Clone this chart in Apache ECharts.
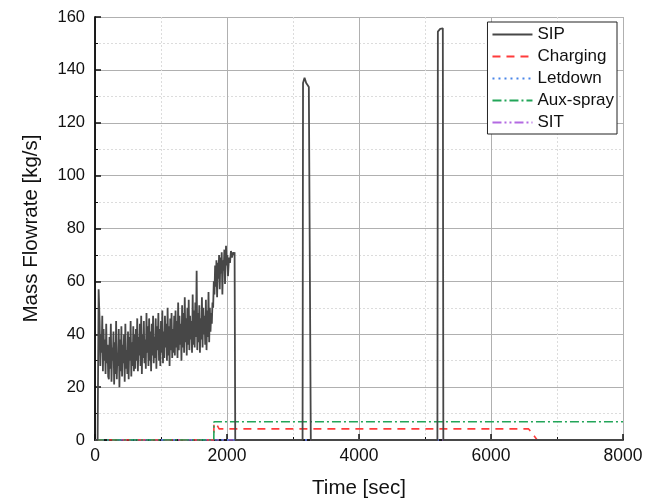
<!DOCTYPE html>
<html>
<head>
<meta charset="utf-8">
<script src="https://cdn.jsdelivr.net/npm/echarts@6/dist/echarts.min.js"></script>
<style>html,body{margin:0;padding:0;background:#fff}#c{width:646px;height:504px}</style>
</head>
<body>
<div id="c"></div>
<script>
// ---- data ----
const seriesNames = ['SIP', 'Charging', 'Letdown', 'Aux-spray', 'SIT'];
const xTicks = [0, 2000, 4000, 6000, 8000];
const yTicks = [0, 20, 40, 60, 80, 100, 120, 140, 160];

// SIP: start
const sipStartT = [0, 40, 55];
const sipStartV = [0, 0, 57];
// SIP: noisy part sampled every 10 s from 70 s
const sipNoiseStart = 70;
const sipNoiseStep = 10;
const sipNoiseV = [
  45, 28, 40, 33, 47, 26, 42, 30, 38, 25, 44, 29, 36, 24,
  23, 39, 27, 44, 22, 35, 30, 41, 21, 37, 25, 45, 23, 33, 28, 42, 20, 38, 26, 43, 24, 36, 29, 40, 22, 44,
  27, 34, 25, 41, 23, 39, 30, 45, 24, 37, 28, 43, 26, 40,
  27, 42, 30, 46, 26, 39, 32, 44, 28, 47, 25, 40, 31, 45, 29, 38, 27, 48, 33, 43, 28, 46, 30, 41, 26, 44,
  32, 47, 29, 39, 31, 46, 27, 43, 34, 48, 30, 42, 28, 45, 33, 49, 29, 41, 31, 47, 35, 44, 30, 50, 32, 43,
  28, 46, 34, 48, 31, 42, 33, 47,
  32, 49, 35, 45, 31, 52, 34, 47, 36, 44, 30, 51, 35, 48, 33, 54, 37, 46, 32, 50, 36, 53, 34, 47, 38, 45,
  33, 55, 36, 49, 35, 52, 39, 64, 34, 48, 37, 51, 33, 46, 38, 54, 35, 50, 40, 47, 36, 53, 34, 49, 39, 56,
  37, 50, 41, 48, 44, 52
];
// SIP: high plateau, drop and later spikes
const sipLateT = [1790, 1800, 1810, 1820, 1830, 1840, 1850, 1860, 1870, 1880, 1890, 1900, 1910, 1920, 1930, 1940, 1950, 1960, 1970, 1985, 1995, 2005, 2015, 2030, 2045, 2060, 2075, 2090, 2105, 2115, 2125,
  3145, 3152, 3175, 3200, 3240, 3262, 3270,
  5188, 5195, 5230, 5270, 5278, 8000];
const sipLateV = [50, 60, 55, 66, 58, 68, 54, 67, 61, 70, 57, 69, 63, 71, 55, 68, 64, 72, 59, 73.5, 66, 70, 62, 69, 67, 71.5, 69, 71, 70, 71, 0,
  0, 135, 137, 135, 133.5, 133, 0,
  0, 154.5, 155.5, 155.7, 0, 0];

const chargingT = [0, 1800, 1802, 1840, 1880, 6570, 6640, 6700, 8000];
const chargingV = [0, 0, 6.3, 6.1, 4.2, 4.2, 2.0, 0, 0];
const letdownT = [0, 8000];
const letdownV = [0, 0];
const auxT = [0, 1800, 1803, 8000];
const auxV = [0, 0, 6.9, 6.9];
const sitT = [0, 8000];
const sitV = [0, 0];

// ---- build ----
function pairs(t, v) { return t.map((x, i) => [x, v[i]]); }
const sipData = pairs(sipStartT, sipStartV)
  .concat(sipNoiseV.map((v, i) => [sipNoiseStart + i * sipNoiseStep, v]))
  .concat(pairs(sipLateT, sipLateV));

const FONT = '"Liberation Sans", Arial, sans-serif';
const chart = echarts.init(document.getElementById('c'), null, {renderer: 'canvas'});
const styles = [
  {color: '#474747', type: 'solid', width: 1.8},
  {color: '#ff3b3b', type: [8, 6], width: 1.6},
  {color: '#4a86e8', type: [2, 4], width: 1.6},
  {color: '#22a559', type: [9, 3, 2, 3], width: 1.6},
  {color: '#b36ae2', type: [9, 3, 2, 3, 2, 3], width: 1.6}
];
const datas = [sipData, pairs(chargingT, chargingV), pairs(letdownT, letdownV), pairs(auxT, auxV), pairs(sitT, sitV)];
const order = [4, 2, 1, 3, 0];
const series = order.map(i => ({
  name: seriesNames[i], type: 'line', data: datas[i], showSymbol: false, symbol: 'none',
  lineStyle: styles[i], itemStyle: {color: styles[i].color}, animation: false, z: 2 + (i === 0 ? 1 : 0)
}));

chart.setOption({
  animation: false,
  textStyle: {fontFamily: FONT},
  grid: {left: 95, right: 23, top: 17, bottom: 63},
  legend: {
    data: seriesNames, orient: 'vertical', right: 29, top: 22,
    itemWidth: 40, itemHeight: 14, itemGap: 5, padding: [4, 3, 3, 4],
    borderColor: '#222', borderWidth: 1, backgroundColor: '#fff',
    itemStyle: {opacity: 0},
    textStyle: {fontSize: 17, color: '#111', fontFamily: FONT}
  },
  xAxis: [{
    type: 'value', min: 0, max: 8000, interval: 2000,
    name: 'Time [sec]', nameLocation: 'middle', nameGap: 38,
    nameTextStyle: {fontSize: 20.5, color: '#111', fontFamily: FONT},
    axisLine: {show: true, lineStyle: {color: '#111', width: 1.5}},
    axisTick: {show: true, inside: true, length: 6, lineStyle: {color: '#111', width: 1.5}},
    minorTick: {show: true, splitNumber: 2, length: 3, lineStyle: {color: '#111', width: 1}},
    axisLabel: {fontSize: 17.5, color: '#111', margin: 7, fontFamily: FONT, formatter: v => xTicks.includes(v) ? String(v) : ''},
    splitLine: {show: true, lineStyle: {color: '#b0b0b0', width: 1}},
    minorSplitLine: {show: true, lineStyle: {color: '#dcdcdc', width: 1, type: [2, 2]}}
  }, {
    type: 'value', position: 'top', min: 0, max: 8000, axisLine: {show: true, lineStyle: {color: '#111', width: 1.5}},
    axisTick: {show: false}, axisLabel: {show: false}, splitLine: {show: false}
  }],
  yAxis: [{
    type: 'value', min: 0, max: 160, interval: 20,
    name: 'Mass Flowrate [kg/s]', nameLocation: 'middle', nameGap: 53,
    nameTextStyle: {fontSize: 20.5, color: '#111', fontFamily: FONT},
    axisLine: {show: true, lineStyle: {color: '#111', width: 1.5}},
    axisTick: {show: true, inside: true, length: 6, lineStyle: {color: '#111', width: 1.5}},
    minorTick: {show: true, splitNumber: 2, length: 3, lineStyle: {color: '#111', width: 1}},
    axisLabel: {fontSize: 16.5, color: '#111', margin: 10, fontFamily: FONT, formatter: v => yTicks.includes(v) ? String(v) : ''},
    splitLine: {show: true, lineStyle: {color: '#b0b0b0', width: 1}},
    minorSplitLine: {show: true, lineStyle: {color: '#dcdcdc', width: 1, type: [2, 2]}}
  }, {
    type: 'value', position: 'right', min: 0, max: 160, axisLine: {show: true, lineStyle: {color: '#111', width: 1.5}},
    axisTick: {show: false}, axisLabel: {show: false}, splitLine: {show: false}
  }],
  series: series
});
</script>
</body>
</html>
